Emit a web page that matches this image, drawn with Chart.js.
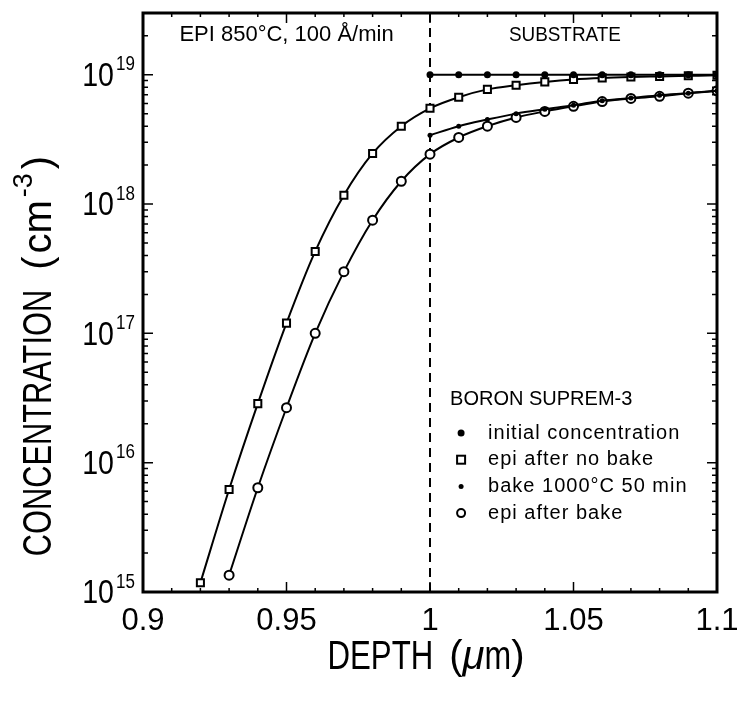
<!DOCTYPE html>
<html>
<head>
<meta charset="utf-8">
<script src="https://cdn.jsdelivr.net/npm/chart.js@4.4.1/dist/chart.umd.min.js"></script>
<style>
  html, body { margin: 0; padding: 0; background: #fff; }
  #wrap { width: 738px; height: 701px; }
</style>
</head>
<body>
<div id="wrap"><canvas id="chart" width="738" height="701"></canvas></div>
<script>
// depth in um, concentration in cm^-3
const depthNoBake = [0.92, 0.93, 0.94, 0.95, 0.96, 0.97, 0.98, 0.99, 1.00, 1.01, 1.02, 1.03, 1.04, 1.05, 1.06, 1.07, 1.08, 1.09, 1.10];
const epiNoBake = [1.18e15, 6.2e15, 2.86e16, 1.2e17, 4.3e17, 1.17e18, 2.46e18, 4.0e18, 5.5e18, 6.7e18, 7.7e18, 8.3e18, 8.8e18, 9.2e18, 9.45e18, 9.6e18, 9.7e18, 9.8e18, 9.9e18];

const depthAfterBake = [0.93, 0.94, 0.95, 0.96, 0.97, 0.98, 0.99, 1.00, 1.01, 1.02, 1.03, 1.04, 1.05, 1.06, 1.07, 1.08, 1.09, 1.10];
const epiAfterBake = [1.35e15, 6.4e15, 2.66e16, 1.0e17, 3.0e17, 7.5e17, 1.5e18, 2.43e18, 3.27e18, 4.0e18, 4.67e18, 5.2e18, 5.7e18, 6.2e18, 6.55e18, 6.8e18, 7.2e18, 7.5e18];

const depthSubstrate = [1.00, 1.01, 1.02, 1.03, 1.04, 1.05, 1.06, 1.07, 1.08, 1.09, 1.10];
const initialConc = [1e19, 1e19, 1e19, 1e19, 1e19, 1e19, 1e19, 1e19, 1e19, 1e19, 1e19];
const bakeConc = [3.4e18, 4.0e18, 4.5e18, 5.0e18, 5.4e18, 5.8e18, 6.3e18, 6.6e18, 6.95e18, 7.2e18, 7.5e18];

const interfaceDepth = 1.0;
const xTicks = [0.9, 0.95, 1, 1.05, 1.1];
const xTickLabels = ['0.9', '0.95', '1', '1.05', '1.1'];
const yExponents = [15, 16, 17, 18, 19];

const legendTitle = 'BORON SUPREM-3';
const legendLabels = ['initial concentration', 'epi after no bake', 'bake 1000°C 50 min', 'epi after bake'];
const noteEpi = 'EPI 850°C, 100 Å/min';
const noteSubstrate = 'SUBSTRATE';

const FONT = "'Liberation Sans', Arial, sans-serif";

function toPoints(xs, ys) {
    return xs.map((x, i) => ({ x: x, y: ys[i] }));
}

// draw a run of text pieces along a baseline, centred on (0,0)
function drawRun(ctx, parts) {
    let total = 0;
    parts.forEach(p => {
        ctx.font = p.font;
        p.w = ctx.measureText(p.text).width * (p.sx || 1) + (p.gap || 0);
        total += p.w;
    });
    let x = -total / 2;
    ctx.textAlign = 'left';
    ctx.textBaseline = 'middle';
    parts.forEach(p => {
        ctx.save();
        ctx.font = p.font;
        ctx.translate(x + (p.gap || 0), p.dy || 0);
        ctx.scale(p.sx || 1, 1);
        ctx.fillText(p.text, 0, 0);
        ctx.restore();
        x += p.w;
    });
}

function drawMarker(ctx, style, x, y) {
    ctx.save();
    ctx.lineWidth = 2;
    ctx.strokeStyle = '#000';
    if (style === 'dot') {
        ctx.beginPath(); ctx.arc(x, y, 3.5, 0, Math.PI * 2); ctx.fillStyle = '#000'; ctx.fill();
    } else if (style === 'smalldot') {
        ctx.beginPath(); ctx.arc(x, y, 2.5, 0, Math.PI * 2); ctx.fillStyle = '#000'; ctx.fill();
    } else if (style === 'square') {
        ctx.fillStyle = '#fff';
        ctx.fillRect(x - 4, y - 4, 8, 8); ctx.strokeRect(x - 4, y - 4, 8, 8);
    } else {
        ctx.beginPath(); ctx.arc(x, y, 4, 0, Math.PI * 2); ctx.fillStyle = '#fff'; ctx.fill(); ctx.stroke();
    }
    ctx.restore();
}

const framePlugin = {
    id: 'frame',
    afterDraw(chart) {
        const ctx = chart.ctx;
        const xs = chart.scales.x, ys = chart.scales.y;
        const { left, right, top, bottom } = chart.chartArea;
        ctx.save();
        ctx.strokeStyle = '#000';
        ctx.fillStyle = '#000';

        // inward ticks on all four sides
        ctx.lineWidth = 1.5;
        ctx.beginPath();
        for (let i = 0; i <= 20; i++) {
            const px = xs.getPixelForValue(0.9 + i * 0.01);
            const len = i % 5 === 0 ? 10 : 4;
            ctx.moveTo(px, bottom); ctx.lineTo(px, bottom - len);
            ctx.moveTo(px, top); ctx.lineTo(px, top + len);
        }
        for (let e = 15; e <= 19; e++) {
            for (let m = 1; m <= 9; m++) {
                const v = m * Math.pow(10, e);
                if (v > ys.max) break;
                const py = ys.getPixelForValue(v);
                const len = m === 1 ? 10 : 5;
                ctx.moveTo(left, py); ctx.lineTo(left + len, py);
                ctx.moveTo(right, py); ctx.lineTo(right - len, py);
            }
        }
        ctx.stroke();

        // frame
        ctx.lineWidth = 3;
        ctx.strokeRect(left, top, right - left, bottom - top);

        // x tick labels
        ctx.font = '31px ' + FONT;
        ctx.textAlign = 'center';
        ctx.textBaseline = 'middle';
        xTicks.forEach((v, i) => ctx.fillText(xTickLabels[i], xs.getPixelForValue(v), bottom + 29));

        // y tick labels 10^n
        yExponents.forEach(e => {
            const py = ys.getPixelForValue(Math.pow(10, e));
            ctx.save();
            ctx.font = '34px ' + FONT;
            ctx.textAlign = 'right';
            ctx.translate(left - 29, py + 2);
            ctx.scale(0.84, 1);
            ctx.fillText('10', 0, 0);
            ctx.restore();
            ctx.save();
            ctx.font = '20px ' + FONT;
            ctx.textAlign = 'left';
            ctx.translate(left - 27, py - 10);
            ctx.scale(0.85, 1);
            ctx.fillText(String(e), 0, 0);
            ctx.restore();
        });

        // axis titles
        const big = '40px ' + FONT;
        ctx.save();
        ctx.translate((left + right) / 2 - 4, bottom + 66);
        drawRun(ctx, [
            { text: 'DEPTH', font: big, sx: 0.78 },
            { text: '(', font: big, gap: 16 },
            { text: 'μ', font: 'italic ' + big },
            { text: 'm', font: big, sx: 0.8 },
            { text: ')', font: big }
        ]);
        ctx.restore();

        ctx.save();
        ctx.translate(40, 356);
        ctx.rotate(-Math.PI / 2);
        drawRun(ctx, [
            { text: 'CONCENTRATION', font: big, sx: 0.77 },
            { text: '(', font: big, gap: 20 },
            { text: 'cm', font: big, gap: 3 },
            { text: '-3', font: '27px ' + FONT, gap: 3, dy: -15 },
            { text: ')', font: big, gap: 4 }
        ]);
        ctx.restore();

        // notes inside the plot
        ctx.textBaseline = 'middle';
        ctx.save();
        ctx.font = '22px ' + FONT;
        ctx.textAlign = 'center';
        ctx.fillText(noteEpi, (left + xs.getPixelForValue(interfaceDepth)) / 2, top + 22);
        ctx.translate(xs.getPixelForValue(1.047), top + 22);
        ctx.font = '21px ' + FONT;
        ctx.scale(0.9, 1);
        ctx.fillText(noteSubstrate, 0, 0);
        ctx.restore();

        // legend
        const lx = xs.getPixelForValue(1.007);
        ctx.textAlign = 'left';
        ctx.font = '20px ' + FONT;
        ctx.fillText(legendTitle, lx, 399);
        const styles = ['dot', 'square', 'smalldot', 'circle'];
        ctx.letterSpacing = '1px';
        legendLabels.forEach((lab, i) => {
            const py = 433 + i * 26.7;
            drawMarker(ctx, styles[i], lx + 11, py);
            ctx.fillText(lab, lx + 38, py);
        });
        ctx.letterSpacing = '0px';
        ctx.restore();
    }
};

const lineBase = {
    borderColor: '#000',
    borderWidth: 2,
    pointBorderColor: '#000',
    pointBorderWidth: 2,
    cubicInterpolationMode: 'monotone',
    fill: false
};

new Chart(document.getElementById('chart'), {
    type: 'line',
    data: {
        datasets: [
            Object.assign({}, lineBase, {
                label: legendLabels[0],
                data: toPoints(depthSubstrate, initialConc),
                pointStyle: 'circle', pointRadius: 3.5, pointBackgroundColor: '#000', pointBorderWidth: 0,
                order: 0
            }),
            Object.assign({}, lineBase, {
                label: legendLabels[2],
                data: toPoints(depthSubstrate, bakeConc),
                pointStyle: 'circle', pointRadius: 2.5, pointBackgroundColor: '#000', pointBorderWidth: 0,
                order: 1
            }),
            Object.assign({}, lineBase, {
                label: legendLabels[1],
                data: toPoints(depthNoBake, epiNoBake),
                pointStyle: 'rect', pointRadius: 5, pointBackgroundColor: '#fff',
                order: 2
            }),
            Object.assign({}, lineBase, {
                label: legendLabels[3],
                data: toPoints(depthAfterBake, epiAfterBake),
                pointStyle: 'circle', pointRadius: 4.5, pointBackgroundColor: '#fff',
                order: 3
            }),
            {
                label: 'interface',
                data: [{ x: interfaceDepth, y: 1e15 }, { x: interfaceDepth, y: 3e19 }],
                borderColor: '#000', borderWidth: 2, borderDash: [9, 6],
                pointRadius: 0, fill: false, order: 4
            }
        ]
    },
    options: {
        responsive: false,
        animation: false,
        devicePixelRatio: 1,
        layout: { padding: { top: 13, right: 21, left: 0, bottom: 0 } },
        plugins: { legend: { display: false }, tooltip: { enabled: false } },
        scales: {
            x: {
                type: 'linear', min: 0.9, max: 1.1,
                ticks: { display: false }, grid: { display: false }, border: { display: false },
                afterFit: s => { s.height = 109; }
            },
            y: {
                type: 'logarithmic', min: 1e15, max: 3e19,
                ticks: { display: false }, grid: { display: false }, border: { display: false },
                afterFit: s => { s.width = 143; }
            }
        }
    },
    plugins: [framePlugin]
});
</script>
</body>
</html>
